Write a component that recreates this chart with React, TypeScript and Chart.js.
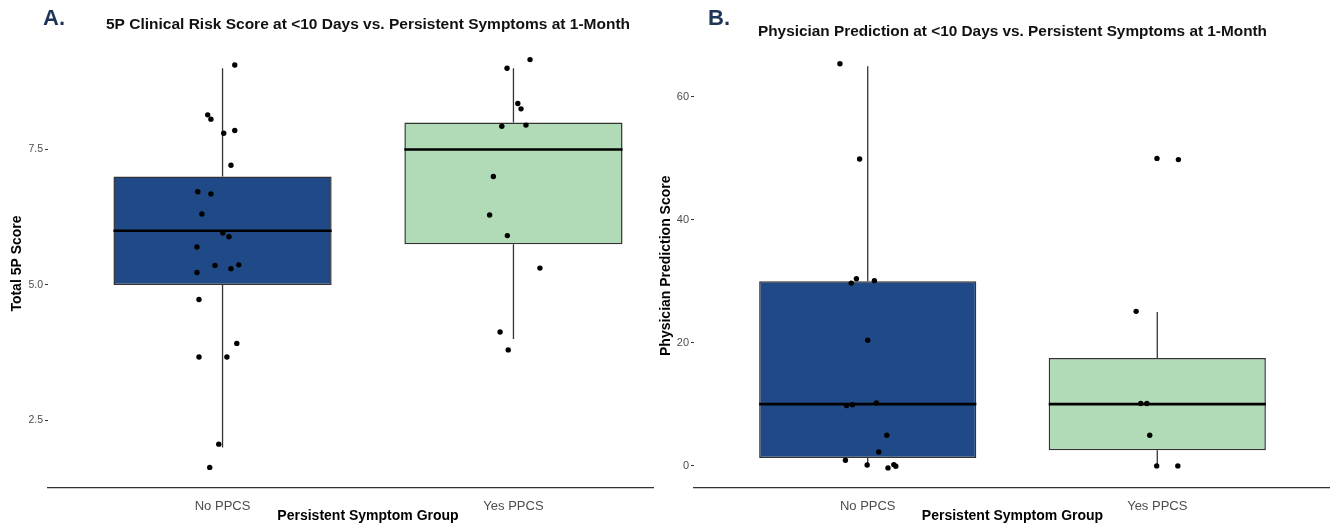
import React, { useEffect, useRef } from 'react';
import { Chart, registerables } from 'chart.js';

Chart.register(...registerables);

// ---------- shared ----------
const categories = ['No PPCS', 'Yes PPCS'];
const categoryPositions = [1, 2];
const boxColors = ['#1f4a87', '#b1dbb7'];
const BOX_WIDTH = 0.75;

// ---------- Panel A: 5P score ----------
const aTitle = '5P Clinical Risk Score at <10 Days vs. Persistent Symptoms at 1-Month';
const aYTitle = 'Total 5P Score';
const aXTitle = 'Persistent Symptom Group';
const aWhiskerLow = [2, 4];
const aQ1 = [5, 5.75];
const aMedian = [6, 7.5];
const aQ3 = [7, 8];
const aWhiskerHigh = [9, 9];
const aPointsX = [
  1.042, 0.949, 0.96, 1.004, 1.042, 1.029, 0.915, 0.96, 0.929, 1.001, 1.022,
  0.912, 0.974, 1.056, 1.029, 0.912, 0.919, 1.049, 0.919, 1.015, 0.987, 0.956,
  2.057, 1.978, 2.015, 2.026, 1.96, 2.043, 1.931, 1.918, 1.979, 2.091, 1.954, 1.982,
];
const aPointsY = [
  9.06, 8.14, 8.06, 7.8, 7.85, 7.21, 6.72, 6.68, 6.31, 5.96, 5.89,
  5.7, 5.36, 5.37, 5.3, 5.23, 4.73, 3.92, 3.67, 3.67, 2.06, 1.63,
  9.16, 9.0, 8.35, 8.25, 7.93, 7.95, 7.0, 6.29, 5.91, 5.31, 4.13, 3.8,
];
const aYTicks = [2.5, 5, 7.5];
const aYTickLabels = ['2.5', '5.0', '7.5'];
const aYRange = [1.25, 9.54];

// ---------- Panel B: physician prediction ----------
const bTitle = 'Physician Prediction at <10 Days vs. Persistent Symptoms at 1-Month';
const bYTitle = 'Physician Prediction Score';
const bXTitle = 'Persistent Symptom Group';
const bWhiskerLow = [0, 0];
const bQ1 = [1.25, 2.5];
const bMedian = [10, 10];
const bQ3 = [30, 17.5];
const bWhiskerHigh = [65, 25];
const bPointsX = [
  0.904, 0.972, 0.943, 0.961, 1.023, 1.0, 0.927, 0.947, 1.03, 1.066, 1.038,
  0.923, 0.998, 1.07, 1.09, 1.097,
  1.999, 2.073, 1.927, 1.943, 1.964, 1.974, 1.998, 2.071,
];
const bPointsY = [
  65.4, 49.9, 29.7, 30.4, 30.1, 20.4, 9.76, 9.9, 10.2, 4.93, 2.22,
  0.87, 0.1, -0.38, 0.16, -0.1,
  50.0, 49.8, 25.1, 10.1, 10.1, 4.93, -0.05, -0.05,
];
const bYTicks = [0, 20, 40, 60];
const bYTickLabels = ['0', '20', '40', '60'];
const bYRange = [-3.65, 68.7];

const FONT = '"Liberation Sans", Arial, Helvetica, sans-serif';
Chart.defaults.font.family = FONT;

type PanelSpec = {
  letter: string;
  letterX: number;
  title: string;
  titleCenterX: number;
  titleBaseline: number;
  titleWidth: number;
  yTitle: string;
  xTitle: string;
  low: number[];
  q1: number[];
  med: number[];
  q3: number[];
  high: number[];
  px: number[];
  py: number[];
  yTicks: number[];
  yTickLabels: string[];
  yRange: number[];
  yAxisWidth: number;
  xAxisHeight: number;
  padTop: number;
  padRight: number;
  yTitlePad: number;
  yTickSize: number;
};

function drawFitted(ctx: CanvasRenderingContext2D, text: string, cx: number, baseline: number, size: number, width: number, color: string) {
  ctx.save();
  ctx.font = `bold ${size}px ${FONT}`;
  const w = ctx.measureText(text).width;
  ctx.translate(cx, baseline);
  ctx.scale(width / w, 1);
  ctx.fillStyle = color;
  ctx.textAlign = 'center';
  ctx.textBaseline = 'alphabetic';
  ctx.fillText(text, 0, 0);
  ctx.restore();
}

function buildConfig(p: PanelSpec): any {
  const whiskers: any[] = [];
  categoryPositions.forEach((x, i) => {
    whiskers.push({ x, y: p.low[i] }, { x, y: p.q1[i] }, { x, y: null }, { x, y: p.q3[i] }, { x, y: p.high[i] }, { x, y: null });
  });
  const medians: any[] = [];
  categoryPositions.forEach((x, i) => {
    medians.push({ x: x - BOX_WIDTH / 2, y: p.med[i] }, { x: x + BOX_WIDTH / 2, y: p.med[i] }, { x: x + 0.5, y: null });
  });
  const points = p.px.map((x, i) => ({ x, y: p.py[i] }));

  const titlePlugin = {
    id: 'panelTitles',
    afterDraw(chart: any) {
      const ctx = chart.ctx as CanvasRenderingContext2D;
      ctx.save();
      ctx.font = `bold 22px ${FONT}`;
      ctx.fillStyle = '#1d3557';
      ctx.textAlign = 'left';
      ctx.textBaseline = 'alphabetic';
      ctx.fillText(p.letter, p.letterX, 25);
      ctx.restore();
      drawFitted(ctx, p.title, p.titleCenterX, p.titleBaseline, 15, p.titleWidth, '#111111');
    },
  };

  return {
    type: 'bar',
    data: {
      datasets: [
        {
          type: 'bar',
          data: categoryPositions.map((x, i) => ({ x, y: [p.q1[i], p.q3[i]] })),
          backgroundColor: boxColors,
          borderColor: '#333333',
          borderWidth: 1.5,
          borderSkipped: false,
          barPercentage: BOX_WIDTH,
          categoryPercentage: 1,
          grouped: false,
          order: 4,
        },
        {
          type: 'line',
          data: whiskers,
          borderColor: '#333333',
          borderWidth: 1.3,
          pointRadius: 0,
          spanGaps: false,
          fill: false,
          order: 3,
        },
        {
          type: 'line',
          data: medians,
          borderColor: '#000000',
          borderWidth: 2.6,
          borderCapStyle: 'butt',
          pointRadius: 0,
          spanGaps: false,
          fill: false,
          order: 2,
        },
        {
          type: 'scatter',
          data: points,
          backgroundColor: '#000000',
          borderWidth: 0,
          pointRadius: 2.7,
          order: 1,
        },
      ],
    },
    options: {
      responsive: false,
      animation: false,
      events: [],
      layout: { padding: { left: 0, right: p.padRight, top: p.padTop, bottom: 0 } },
      plugins: { legend: { display: false }, tooltip: { enabled: false }, title: { display: false } },
      scales: {
        x: {
          type: 'linear',
          min: 0.4,
          max: 2.6,
          offset: false,
          bounds: 'data',
          afterBuildTicks: (scale: any) => {
            scale.ticks = categoryPositions.map((v) => ({ value: v }));
          },
          afterFit: (scale: any) => {
            scale.height = p.xAxisHeight;
          },
          grid: { display: false, offset: false },
          border: { display: true, color: '#333333', width: 1.3 },
          ticks: {
            autoSkip: false,
            maxRotation: 0,
            padding: 2.2,
            color: '#4d4d4d',
            font: { size: 13 },
            callback: (v: number) => {
              const i = categoryPositions.indexOf(v);
              return i >= 0 ? categories[i] : '';
            },
          },
          title: {
            display: true,
            text: p.xTitle,
            color: '#000000',
            font: { size: 14, weight: 'bold' },
            padding: { top: 0, bottom: 4.6 },
          },
        },
        y: {
          type: 'linear',
          min: p.yRange[0],
          max: p.yRange[1],
          beginAtZero: false,
          bounds: 'data',
          afterBuildTicks: (scale: any) => {
            scale.ticks = p.yTicks.map((v) => ({ value: v }));
          },
          afterFit: (scale: any) => {
            scale.width = p.yAxisWidth;
          },
          grid: { display: true, drawOnChartArea: false, drawTicks: true, tickLength: 3, tickColor: '#333333', tickWidth: 1 },
          border: { display: false },
          ticks: {
            padding: 2,
            color: '#4d4d4d',
            font: { size: p.yTickSize },
            callback: (v: number) => {
              const i = p.yTicks.indexOf(v);
              return i >= 0 ? p.yTickLabels[i] : '';
            },
          },
          title: {
            display: true,
            text: p.yTitle,
            color: '#000000',
            font: { size: 14, weight: 'bold' },
            padding: { top: p.yTitlePad, bottom: 0 },
          },
        },
      },
    },
    plugins: [titlePlugin],
  };
}

const panelA: PanelSpec = {
  letter: 'A.',
  letterX: 43,
  title: aTitle,
  titleCenterX: 368,
  titleBaseline: 29,
  titleWidth: 524,
  yTitle: aYTitle,
  xTitle: aXTitle,
  low: aWhiskerLow,
  q1: aQ1,
  med: aMedian,
  q3: aQ3,
  high: aWhiskerHigh,
  px: aPointsX,
  py: aPointsY,
  yTicks: aYTicks,
  yTickLabels: aYTickLabels,
  yRange: aYRange,
  yAxisWidth: 48,
  xAxisHeight: 41,
  padTop: 39,
  padRight: 12,
  yTitlePad: 8.6,
  yTickSize: 10.5,
};

const panelB: PanelSpec = {
  letter: 'B.',
  letterX: 53,
  title: bTitle,
  titleCenterX: 357.5,
  titleBaseline: 36,
  titleWidth: 509,
  yTitle: bYTitle,
  xTitle: bXTitle,
  low: bWhiskerLow,
  q1: bQ1,
  med: bMedian,
  q3: bQ3,
  high: bWhiskerHigh,
  px: bPointsX,
  py: bPointsY,
  yTicks: bYTicks,
  yTickLabels: bYTickLabels,
  yRange: bYRange,
  yAxisWidth: 39,
  xAxisHeight: 41,
  padTop: 43.5,
  padRight: 4,
  yTitlePad: 2.6,
  yTickSize: 11,
};

function Panel({ spec, left, width, canvasWidth }: { spec: PanelSpec; left: number; width: number; canvasWidth: number }) {
  const ref = useRef<HTMLCanvasElement | null>(null);
  useEffect(() => {
    if (!ref.current) return;
    const chart = new Chart(ref.current, buildConfig(spec));
    return () => chart.destroy();
  }, [spec]);
  return (
    <div style={{ position: 'absolute', left, top: 0, width, height: 529, overflow: 'hidden' }}>
      <canvas ref={ref} width={canvasWidth} height={529} style={{ display: 'block' }} />
    </div>
  );
}

export default function App() {
  return (
    <div style={{ position: 'absolute', left: 0, top: 0, width: 1330, height: 529, overflow: 'hidden', background: '#ffffff' }}>
      <Panel spec={panelA} left={0} width={654} canvasWidth={700} />
      <Panel spec={panelB} left={655} width={675} canvasWidth={680} />
    </div>
  );
}
